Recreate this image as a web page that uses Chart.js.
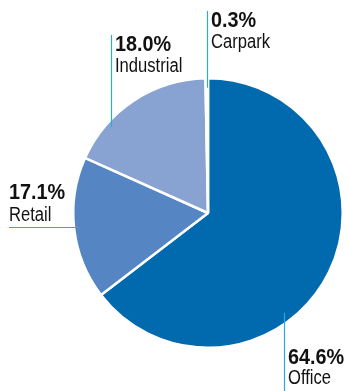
<!DOCTYPE html>
<html>
<head>
<meta charset="utf-8">
<script src="https://cdn.jsdelivr.net/npm/chart.js@4"></script>
<style>
  html, body { margin: 0; padding: 0; background: #fff; }
  #wrap { width: 348px; height: 391px; position: relative; }
</style>
</head>
<body>
<div id="wrap"><canvas id="chart"></canvas></div>
<script>
// sector split, clockwise from 12 o'clock
const sectors = ['Office', 'Retail', 'Industrial', 'Carpark'];
const shares = [64.6, 17.1, 18.0, 0.3];
const sliceColors = ['#0169ae', '#5585c2', '#88a3d1', '#bcd3ec'];

// where each leader line leaves its slice (fraction along the slice, fraction of radius)
// and which way it runs to its label
const leaders = [
  { at: 0.614, r: 0.93, dir: 'down', to: 391 },
  { at: 0.505, r: 0.95, dir: 'left', to: 9 },
  { at: 0.27, r: 0.96, dir: 'up', to: 35 },
  { at: 0.5, r: 0.93, dir: 'up', to: 11 }
];

const lineColor = '#2aa9e1';
const boldFont = 'bold 22px "Liberation Sans", Arial, sans-serif';
const plainFont = '20px "Liberation Sans", Arial, sans-serif';

// condensed look: squeeze the text horizontally
function squeezedText(ctx, text, x, y, font, sx) {
  ctx.save();
  ctx.font = font;
  ctx.translate(x, y);
  ctx.scale(sx, 1);
  ctx.fillText(text, 0, 0);
  ctx.restore();
}

const leaderLabels = {
  id: 'leaderLabels',
  afterDatasetsDraw(chart) {
    const ctx = chart.ctx;
    const arcs = chart.getDatasetMeta(0).data;
    ctx.save();
    arcs.forEach((arc, i) => {
      const p = arc.getProps(['x', 'y', 'startAngle', 'endAngle', 'outerRadius'], true);
      const L = leaders[i];
      const a = p.startAngle + (p.endAngle - p.startAngle) * L.at;
      const ax = p.x + Math.cos(a) * p.outerRadius * L.r;
      const ay = p.y + Math.sin(a) * p.outerRadius * L.r;

      ctx.strokeStyle = lineColor;
      ctx.lineWidth = 1.2;
      ctx.beginPath();
      let tx, ty1, ty2;
      if (L.dir === 'left') {
        const ly = Math.round(ay) + 0.5;
        ctx.moveTo(ax, ly);
        ctx.lineTo(L.to, ly);
        tx = L.to;
        ty1 = ly - 29;
        ty2 = ly - 7;
      } else {
        const lx = Math.round(ax) + 0.5;
        ctx.moveTo(lx, ay);
        ctx.lineTo(lx, L.to);
        tx = lx + 3.5;
        if (L.dir === 'up') {
          ty1 = L.to + 16;
          ty2 = L.to + 37;
        } else {
          ty1 = ay + 51;
          ty2 = ay + 71;
        }
      }
      ctx.stroke();

      ctx.fillStyle = '#111';
      ctx.textAlign = 'left';
      ctx.textBaseline = 'alphabetic';
      squeezedText(ctx, shares[i].toFixed(1) + '%', tx, ty1, boldFont, 0.9);
      squeezedText(ctx, sectors[i], tx, ty2, plainFont, 0.83);
    });
    ctx.restore();
  }
};

new Chart(document.getElementById('chart'), {
  type: 'pie',
  data: {
    labels: sectors,
    datasets: [{
      data: shares,
      backgroundColor: sliceColors,
      borderColor: '#ffffff',
      borderWidth: 2.5
    }]
  },
  options: {
    responsive: true,
    maintainAspectRatio: false,
    animation: false,
    layout: { padding: { left: 72, right: 4, top: 77, bottom: 42 } },
    plugins: {
      legend: { display: false },
      tooltip: { enabled: false }
    }
  },
  plugins: [leaderLabels]
});
</script>
</body>
</html>
